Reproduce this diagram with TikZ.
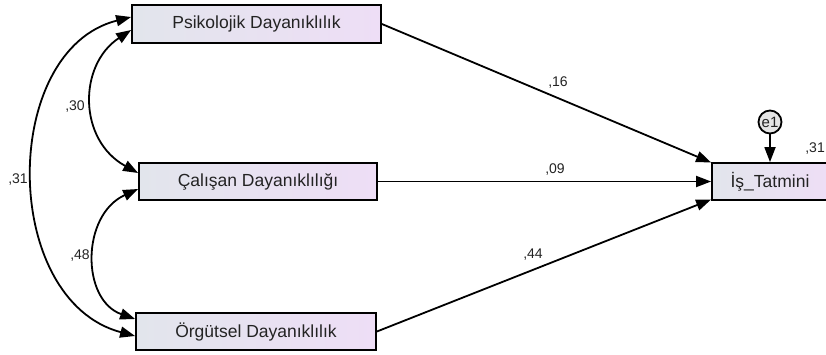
\documentclass[tikz,border=0pt]{standalone}
\usepackage{fontspec}
\setmainfont{Liberation Sans}
\usetikzlibrary{arrows.meta}
\definecolor{boxl}{RGB}{226,229,236}
\definecolor{boxr}{RGB}{238,222,246}
\definecolor{txt}{RGB}{35,35,35}
\begin{document}
\begin{tikzpicture}[x=1pt,y=-1pt,
  box/.style={draw,line width=1.8pt,rectangle,left color=boxl,right color=boxr,
    font=\fontsize{17.5}{17.5}\selectfont,text=txt,inner sep=0pt},
  lbl/.style={font=\fontsize{14}{14}\selectfont,text=txt,inner sep=0pt},
  arr/.style={line width=1.8pt,-{Triangle[length=15pt,width=11pt]}},
  darr/.style={line width=1.8pt,{Triangle[length=15pt,width=11pt]}-{Triangle[length=15pt,width=11pt]}}]
\useasboundingbox (0,0) rectangle (826,354);
\fill[white] (0,0) rectangle (826,354);
\clip (0,0) rectangle (826,354);
\node[box,minimum width=249pt,minimum height=38pt] (psi) at (256.5,24) {Psikolojik Dayanıklılık};
\node[box,minimum width=238pt,minimum height=37pt] (cal) at (258,181.5) {Çalışan Dayanıklılığı};
\node[box,minimum width=240pt,minimum height=37pt] (org) at (256,331.5) {Örgütsel Dayanıklılık};
\node[box,minimum width=116pt,minimum height=37pt] (is) at (770,181.5) {İş\_Tatmini};
\node[circle,draw,line width=1.8pt,fill=gray!20,minimum size=23pt,inner sep=0pt,
  font=\fontsize{15}{15}\selectfont,text=txt] (e1) at (770,122) {e1};
\draw[arr] (e1) -- (is);
\draw[arr] (psi.east) -- ([yshift=19pt]is.west);
\draw[arr] (cal.east) -- (is.west);
\draw[arr] (org.east) -- ([yshift=-18pt]is.west);
\draw[darr] ([yshift=7pt]psi.west) .. controls (0,50) and (0,300) .. ([yshift=-4.5pt]org.west);
\draw[darr] ([yshift=-6pt]psi.west) .. controls (78,65) and (78,140) .. ([yshift=8.5pt]cal.west);
\draw[darr] ([yshift=-7.5pt]cal.west) .. controls (81,215) and (81,300) .. ([yshift=12.5pt]org.west);
\node[lbl] (l30) at (75,107) {,30};
\node[lbl] (l31) at (18,180) {,31};
\node[lbl] (l48) at (80,256) {,48};
\node[lbl] (l16) at (558,83) {,16};
\node[lbl] (l09) at (555,170) {,09};
\node[lbl] (l44) at (533,255) {,44};
\node[lbl,anchor=east] (r31) at (825,149) {,31};
\end{tikzpicture}
\end{document}
